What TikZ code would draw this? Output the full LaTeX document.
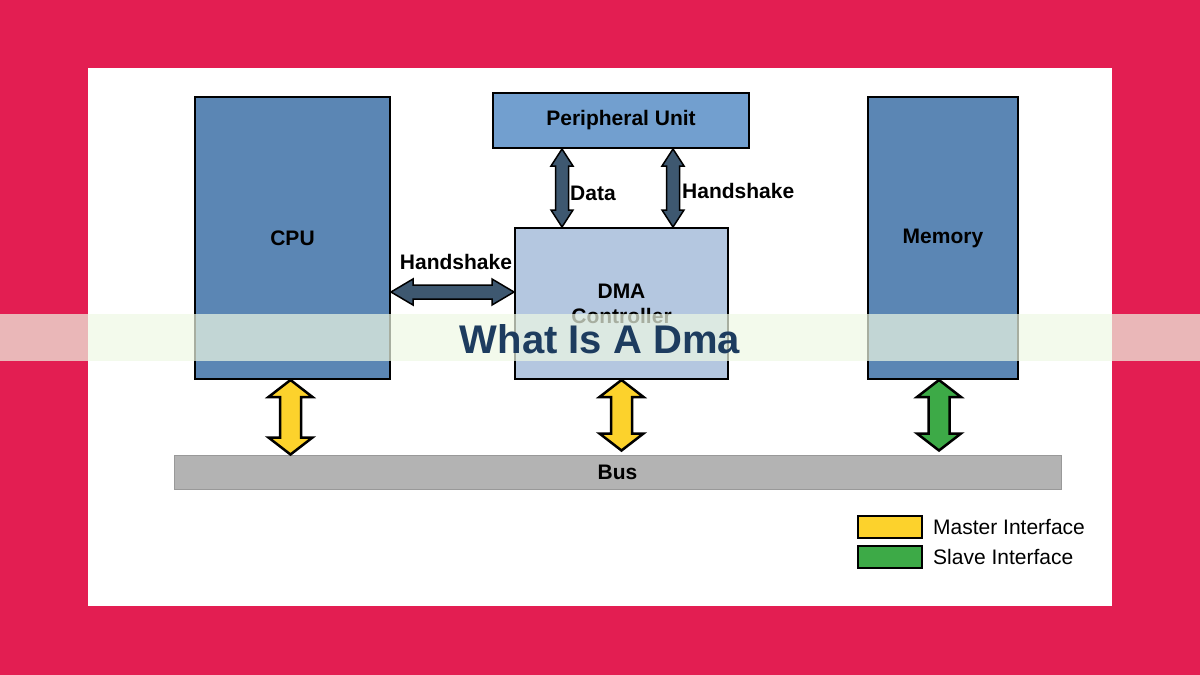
\documentclass[tikz,border=0pt]{standalone}
\usepackage{fontspec}
\setmainfont{Liberation Sans}
\usetikzlibrary{positioning, calc}
\definecolor{frame}{HTML}{E31E52}
\definecolor{cpublue}{HTML}{5B86B4}
\definecolor{periblue}{HTML}{729FCF}
\definecolor{dmablue}{HTML}{B4C7E0}
\definecolor{ctrlgray}{HTML}{3E5870}
\definecolor{master}{HTML}{FCD22C}
\definecolor{slave}{HTML}{3DAA47}
\definecolor{busgray}{HTML}{B3B3B3}
\definecolor{banner}{RGB}{238,248,228}
\definecolor{navy}{HTML}{1D3C5F}
\tikzset{
  unit/.style={draw=black, line width=2pt, inner sep=0pt, align=center,
    font=\bfseries\fontsize{21}{25}\selectfont},
  lbl/.style={inner sep=0pt, font=\bfseries\fontsize{21}{24}\selectfont},
  key/.style={draw=black, line width=2pt, minimum width=64pt, minimum height=22pt, inner sep=0pt},
  keytext/.style={inner sep=0pt, font=\fontsize{21}{24}\selectfont},
  fat/.style n args={3}{to path={
      -- ($(\tikztostart)!#1!(\tikztotarget)!#2!90:(\tikztotarget)$)
      -- ($(\tikztostart)!#1!(\tikztotarget)!#3!90:(\tikztotarget)$)
      -- ($(\tikztotarget)!#1!(\tikztostart)!#3!-90:(\tikztostart)$)
      -- ($(\tikztotarget)!#1!(\tikztostart)!#2!-90:(\tikztostart)$)
      -- (\tikztotarget)
      -- ($(\tikztotarget)!#1!(\tikztostart)!#2!90:(\tikztostart)$)
      -- ($(\tikztotarget)!#1!(\tikztostart)!#3!90:(\tikztostart)$)
      -- ($(\tikztostart)!#1!(\tikztotarget)!#3!-90:(\tikztotarget)$)
      -- ($(\tikztostart)!#1!(\tikztotarget)!#2!-90:(\tikztotarget)$)
      -- cycle}},
  ctrlarrow/.style={fat={17pt}{11pt}{6.5pt}, draw=black, line width=1.5pt, fill=ctrlgray, line join=miter},
  busarrow/.style={fat={17pt}{22pt}{10.5pt}, draw=black, line width=2.5pt, line join=miter}
}
\begin{document}
\begin{tikzpicture}[x=1pt, y=-1pt]
    % frame and panel
    \fill[frame] (0,0) rectangle (1200,675);
    \useasboundingbox (0,0) rectangle (1200,675);
    \fill[white] (88,68) rectangle (1112,606);

    % units
    \node[unit, fill=cpublue, minimum width=195pt, minimum height=282pt] (cpu) at (292.5,238) {CPU};
    \node[unit, fill=cpublue, minimum width=150pt, minimum height=282pt] (mem) at (943,238) {Memory};
    \node[unit, fill=periblue, minimum width=256pt, minimum height=55pt] (periph) at (621,120.5) {Peripheral Unit};
    \node[unit, fill=dmablue, minimum width=213pt, minimum height=151pt] (dma) at (621.5,303.5) {DMA\\Controller};
    \node[unit, draw=black!40, line width=1pt, fill=busgray, minimum width=887pt, minimum height=34pt] (bus) at (617.5,472) {Bus};

    % control lines
    \coordinate (dataT) at ([xshift=-59pt]periph.south);
    \coordinate (dataB) at (dataT |- dma.north);
    \coordinate (hsT) at ([xshift=52pt]periph.south);
    \coordinate (hsB) at (hsT |- dma.north);
    \coordinate (hsR) at ([yshift=11.5pt]dma.west);
    \coordinate (hsL) at (cpu.east |- hsR);
    \draw[ctrlarrow] (dataT) to (dataB);
    \draw[ctrlarrow] (hsT) to (hsB);
    \draw[ctrlarrow, fat={22pt}{13pt}{7pt}] (hsL) to (hsR);
    \node[lbl, anchor=west] (dataLbl) at (570,193) {Data};
    \node[lbl, anchor=west] (hsLbl) at (682,191) {Handshake};
    \node[lbl] (cpuHsLbl) at (456,262) {Handshake};

    % bus interfaces
    \coordinate (cpuT) at ([xshift=-2pt]cpu.south);
    \coordinate (cpuB) at (cpuT |- bus.north);
    \coordinate (dmaB) at ([yshift=4pt]dma.south |- bus.north);
    \coordinate (memT) at ([xshift=-4pt]mem.south);
    \coordinate (memB) at ([yshift=4pt]memT |- bus.north);
    \draw[busarrow, fill=master] (cpuT) to (cpuB);
    \draw[busarrow, fill=master] (dma.south) to (dmaB);
    \draw[busarrow, fill=slave] (memT) to (memB);

    % legend
    \node[key, fill=master] (mkey) at (890,527) {};
    \node[key, fill=slave] (skey) at (890,557) {};
    \node[keytext, right=10pt of mkey] (mtext) {Master Interface};
    \node[keytext, right=10pt of skey] (stext) {Slave Interface};

    % title banner
    \fill[banner, opacity=0.7] (0,314) rectangle (1200,361);
    \node[inner sep=0pt, anchor=base, text=navy, font=\bfseries\fontsize{40}{48}\selectfont] (title) at (600,353) {What Is A Dma};
\end{tikzpicture}
\end{document}
